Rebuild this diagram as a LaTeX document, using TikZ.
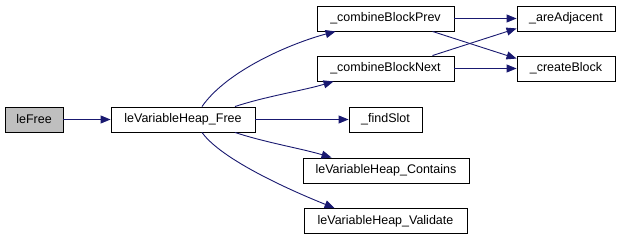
\documentclass[tikz,border=0pt]{standalone}
\usepackage{fontspec}
\setmainfont{Liberation Sans}
\usetikzlibrary{arrows.meta,calc}
\definecolor{edgeblue}{HTML}{191970}
\definecolor{rootgray}{HTML}{BFBFBF}
\begin{document}
\begin{tikzpicture}[x=1pt,y=-1pt,
  fn/.style={draw=black,line width=0.9pt,rectangle,inner sep=0pt,
    font=\fontsize{12.5}{14}\selectfont,minimum height=25pt},
  edge/.style={draw=edgeblue,line width=0.9pt,
    -{Triangle[length=10pt,width=8pt]}},
]
\useasboundingbox (0,0) rectangle (621,240);
% functions
\node[fn,fill=rootgray,minimum width=58pt] (lefree) at (34,119.5) {leFree};
\node[fn,fill=white,minimum width=144pt] (free) at (183,119.5) {leVariableHeap\_Free};
\node[fn,fill=white,minimum width=137pt] (prev) at (385.5,18.5) {\_combineBlockPrev};
\node[fn,fill=white,minimum width=137pt] (next) at (385.5,68.5) {\_combineBlockNext};
\node[fn,fill=white,minimum width=98pt] (adj) at (566,18.5) {\_areAdjacent};
\node[fn,fill=white,minimum width=98pt] (create) at (566,68.5) {\_createBlock};
\node[fn,fill=white,minimum width=73pt] (slot) at (385.5,119.5) {\_findSlot};
\node[fn,fill=white,minimum width=166pt] (contains) at (386,170.5) {leVariableHeap\_Contains};
\node[fn,fill=white,minimum width=163pt] (validate) at (385.5,221) {leVariableHeap\_Validate};
% calls
\draw[edge] (lefree) -- (free);
\draw[edge] ($(free.north)+(19,0)$) .. controls +(25,-36) and +(-45,12) .. ($(prev.south west)+(19,0)$);
\draw[edge] ($(free.north)+(52,0)$) .. controls +(30,-10) and +(-30,9) .. ($(next.south west)+(17,0)$);
\draw[edge] (free) -- (slot);
\draw[edge] ($(free.south)+(52,0)$) .. controls +(30,10) and +(-30,-9) .. ($(contains.north west)+(29,0)$);
\draw[edge] ($(free.south)+(19,0)$) .. controls +(20,28) and +(-40,-16) .. ($(validate.north west)+(31,0)$);
\draw[edge] (prev) -- (adj);
\draw[edge] ($(prev.south east)+(-22,0)$) -- ($(create.north west)+(0,3)$);
\draw[edge] ($(next.north east)+(-22,0)$) -- ($(adj.south west)+(0,-3)$);
\draw[edge] (next) -- (create);
\end{tikzpicture}
\end{document}
